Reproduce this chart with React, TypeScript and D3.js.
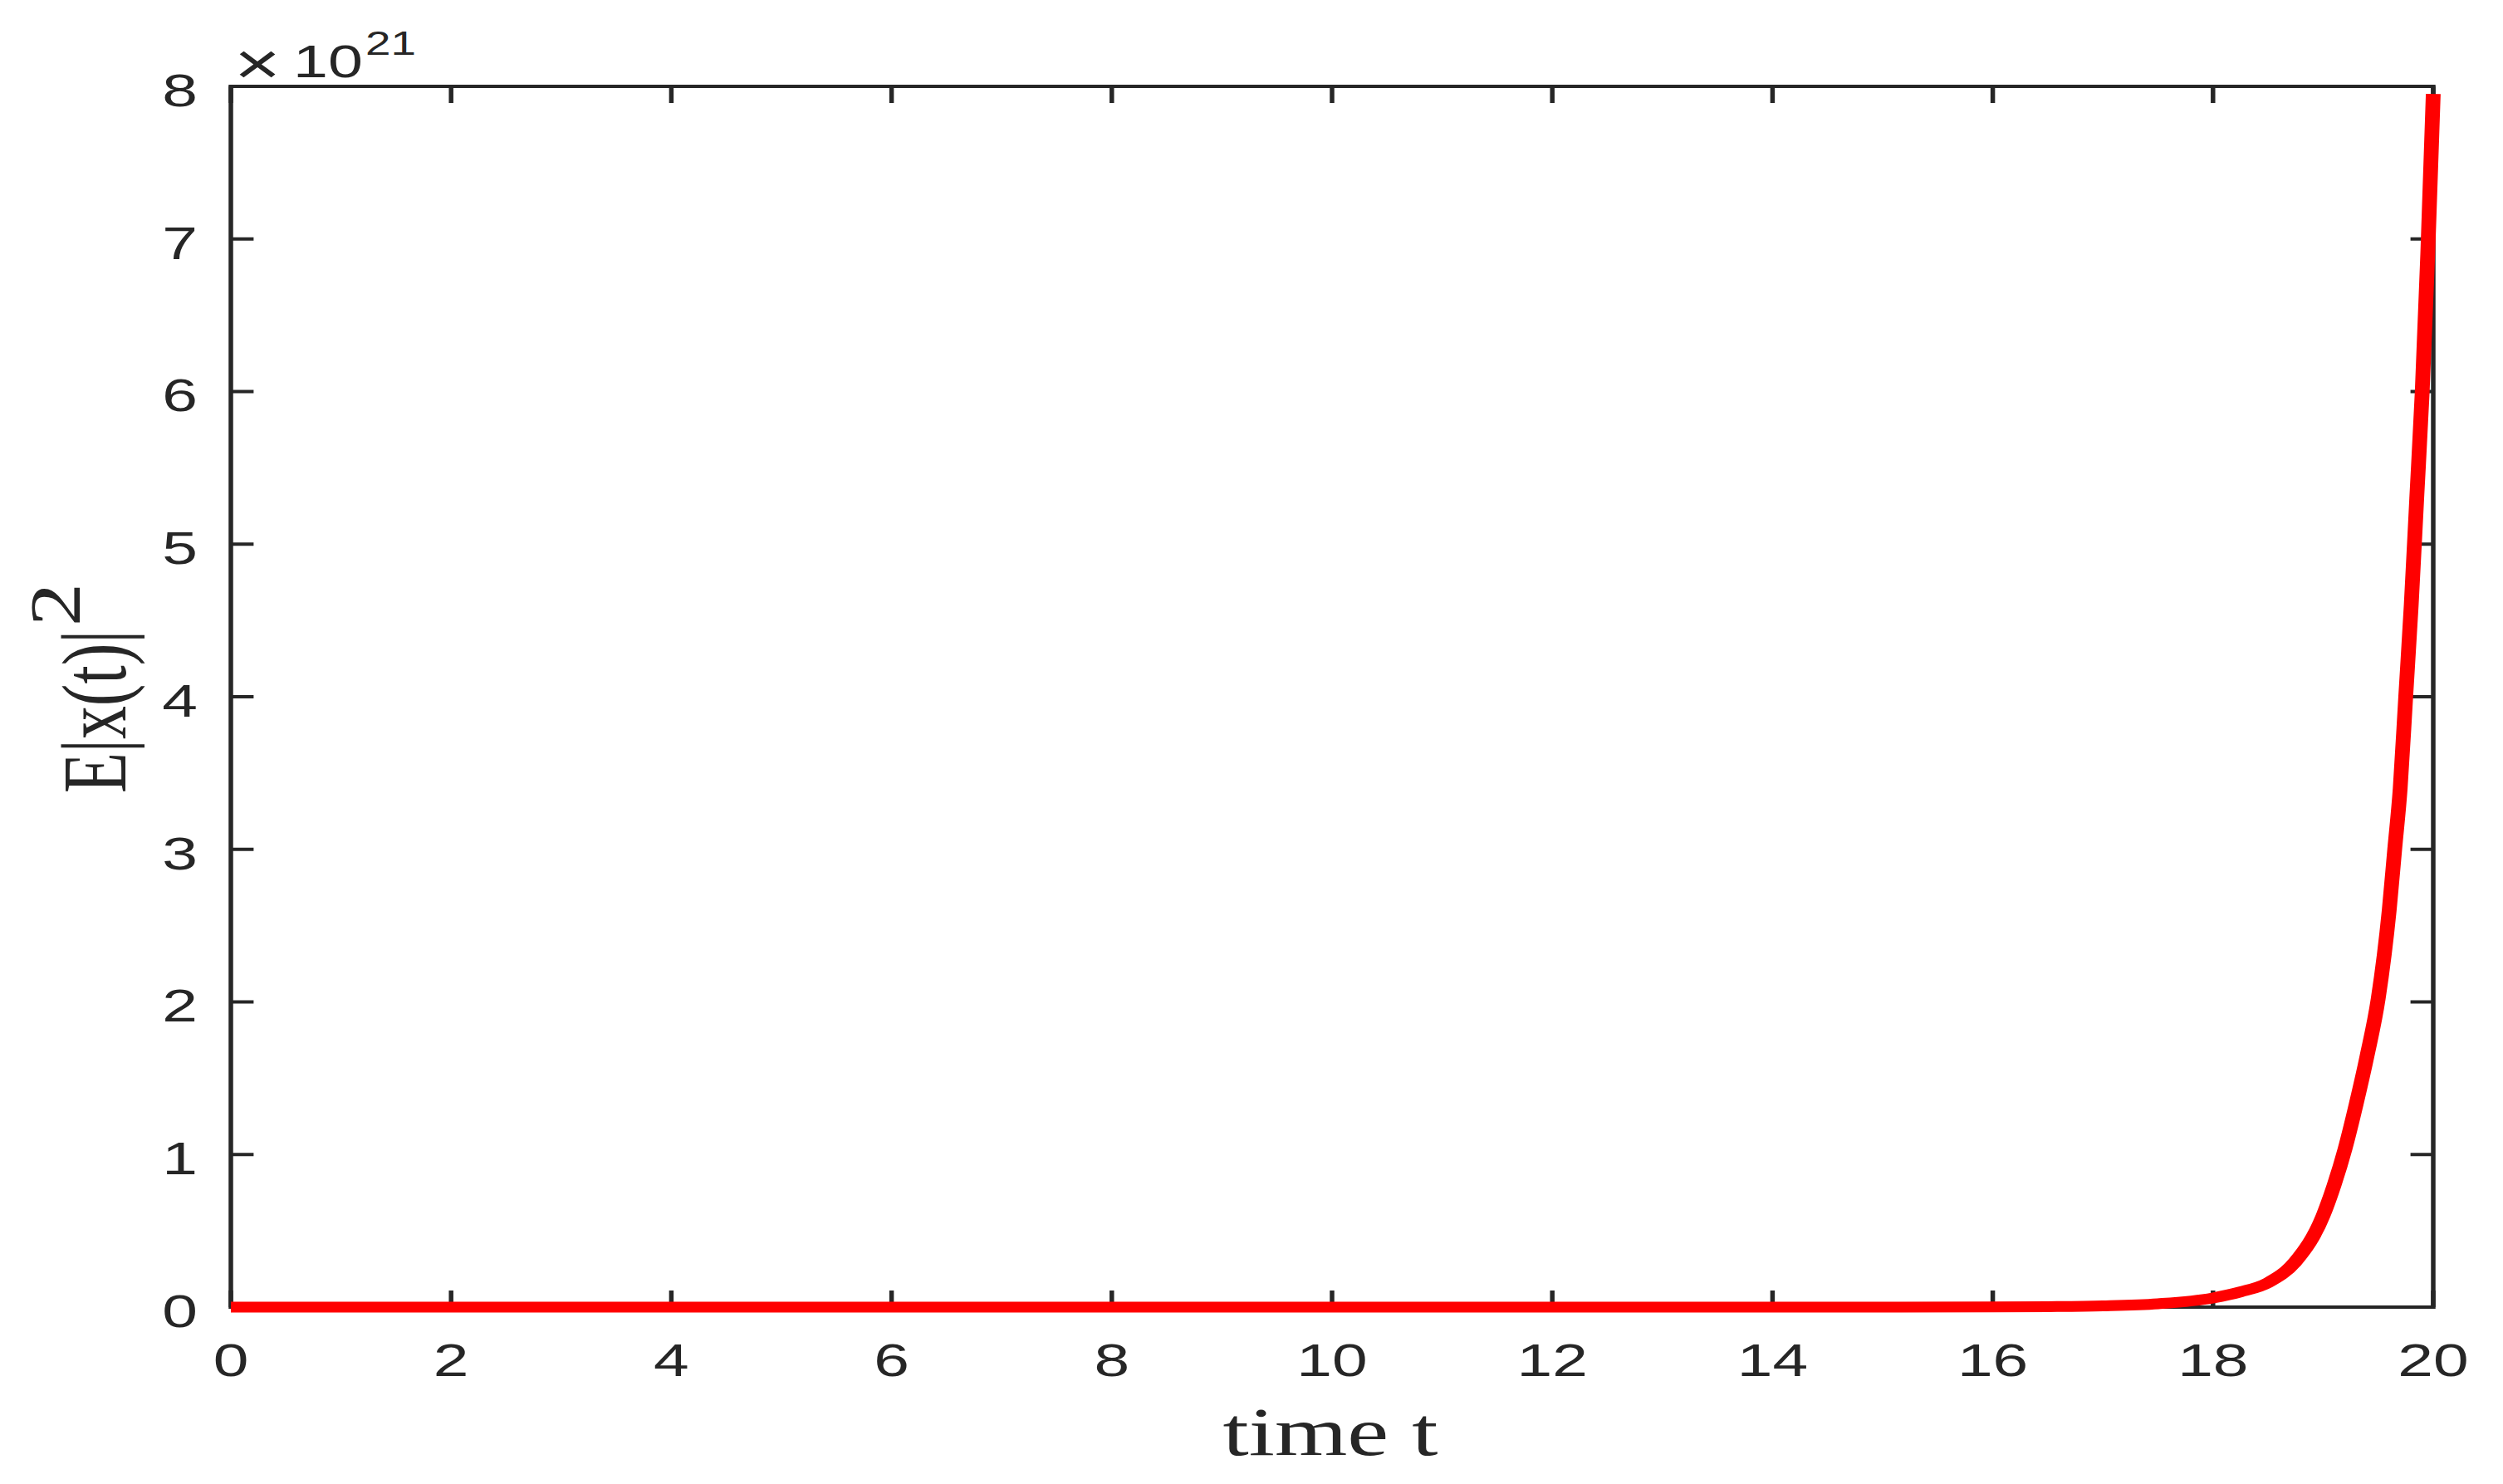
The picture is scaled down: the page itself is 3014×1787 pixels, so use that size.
import React from "react";
import * as d3 from "d3";

const tValues = [0, 2, 4, 6, 8, 10, 12, 14, 16, 16.5, 17, 17.5, 18, 18.25, 18.5, 18.75, 19.0, 19.1, 19.2, 19.3, 19.4, 19.5, 19.6, 19.65, 19.7, 19.75, 19.8, 19.85, 19.9, 19.95, 20.0];
const eValues = [0, 0, 0, 0, 0, 0, 0, 0, 0.001, 0.003, 0.008, 0.022, 0.06, 0.1, 0.16, 0.3, 0.6, 0.8, 1.04, 1.33, 1.65, 2.02, 2.6, 3.0, 3.4, 4.0, 4.6, 5.3, 6.0, 6.9, 7.95];
const xTicks = [0, 2, 4, 6, 8, 10, 12, 14, 16, 18, 20];
const yTicks = [0, 1, 2, 3, 4, 5, 6, 7, 8];
const xLabel = "time t";
const yLabelMain = "E|x(t)|";
const yLabelSup = "2";
const exponentLabel = "21";

const W = 3014;
const H = 1787;
const SX = 1.37; // horizontal stretch of the whole figure
const INK = "#262626";

export default function App() {
  const left = 278 / SX;
  const right = 2930 / SX;
  const top = 104;
  const bottom = 1574;
  const x = d3.scaleLinear().domain([0, 20]).range([left, right]);
  const y = d3.scaleLinear().domain([0, 8]).range([bottom, top]);
  const pts: [number, number][] = tValues.map((t, i) => [t, eValues[i]]);
  const line = d3
    .line<[number, number]>()
    .x((d) => x(d[0]))
    .y((d) => y(d[1]))
    .curve(d3.curveMonotoneX);
  const tickLen = 20;
  const sans = "'Liberation Sans', Arial, Helvetica, sans-serif";
  const serif = "'Liberation Serif', 'Times New Roman', serif";

  return (
    <svg
      width={W}
      height={H}
      style={{ position: "absolute", left: 0, top: 0, background: "#fff" }}
    >
      <rect x={0} y={0} width={W} height={H} fill="#fff" />
      <g transform={`scale(${SX},1)`}>
        {xTicks.map((t) => (
          <g key={"xt" + t}>
            <line x1={x(t)} x2={x(t)} y1={bottom} y2={bottom - tickLen} stroke={INK} strokeWidth={4} />
            <line x1={x(t)} x2={x(t)} y1={top} y2={top + tickLen} stroke={INK} strokeWidth={4} />
            <text x={x(t)} y={1657} textAnchor="middle" fontFamily={sans} fontSize={56} fill={INK}>
              {t}
            </text>
          </g>
        ))}
        {yTicks.map((v) => (
          <g key={"yt" + v}>
            <line x1={left} x2={left + tickLen} y1={y(v)} y2={y(v)} stroke={INK} strokeWidth={4} />
            <line x1={right} x2={right - tickLen} y1={y(v)} y2={y(v)} stroke={INK} strokeWidth={4} />
            <text x={238 / SX} y={y(v) + 24} textAnchor="end" fontFamily={sans} fontSize={56} fill={INK}>
              {v}
            </text>
          </g>
        ))}
        <rect
          x={left}
          y={top}
          width={right - left}
          height={bottom - top}
          fill="none"
          stroke={INK}
          strokeWidth={4}
        />
        <text x={310 / SX} y={101} textAnchor="middle" fontFamily={sans} fontSize={70} fill={INK}>
          ×
        </text>
        <text x={353 / SX} y={93} fontFamily={sans} fontSize={55} fill={INK}>
          10
        </text>
        <text x={440 / SX} y={66} fontFamily={sans} fontSize={40} fill={INK}>
          {exponentLabel}
        </text>
        <text x={1602 / SX} y={1752} textAnchor="middle" fontFamily={serif} fontSize={82} fill={INK}>
          {xLabel}
        </text>
        <text
          transform={`translate(${151 / SX},955) rotate(-90)`}
          fontFamily={serif}
          fontSize={80}
          fill={INK}
        >
          {yLabelMain}
        </text>
        <text
          transform={`translate(${96 / SX},754) rotate(-90)`}
          fontFamily={serif}
          fontSize={64}
          fill={INK}
          textLength={52}
          lengthAdjust="spacingAndGlyphs"
        >
          {yLabelSup}
        </text>
        <path d={line(pts) || ""} fill="none" stroke="#ff0000" strokeWidth={13} />
      </g>
    </svg>
  );
}
